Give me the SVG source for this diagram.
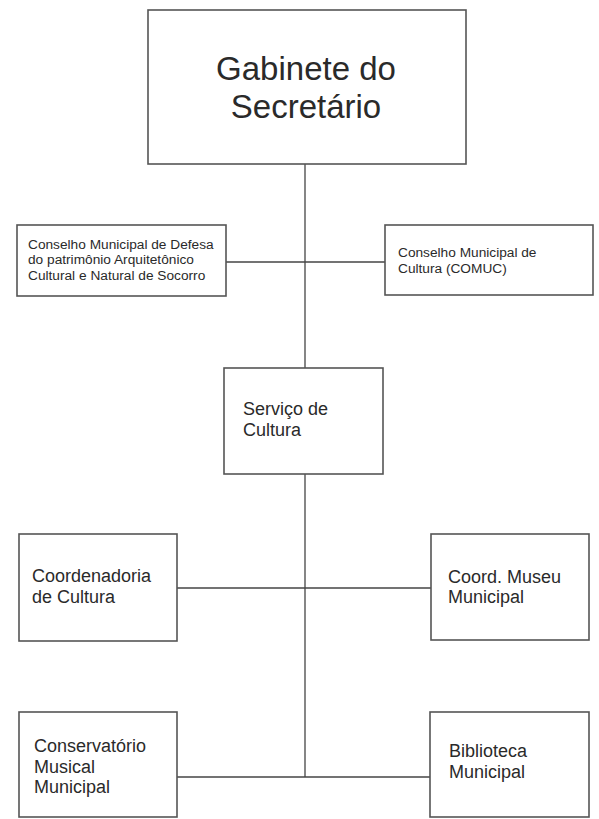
<svg xmlns="http://www.w3.org/2000/svg" width="599" height="819" viewBox="0 0 599 819">
<style>
.box{fill:#fff;stroke:#555;stroke-width:1.6}
.ln{stroke:#444;stroke-width:1.3;fill:none}
text{font-family:"Liberation Sans",Arial,sans-serif;fill:#2a2a2a}
.t18{font-size:18px}
.t14{font-size:13.7px}
.t33{font-size:33px}
</style>
<rect width="599" height="819" fill="#fff"/>
<g id="connectors">
<line class="ln" x1="305" y1="164" x2="305" y2="368"/>
<line class="ln" x1="226" y1="262" x2="385" y2="262"/>
<line class="ln" x1="305" y1="474" x2="305" y2="777"/>
<line class="ln" x1="177" y1="588" x2="431" y2="588"/>
<line class="ln" x1="177" y1="777" x2="430" y2="777"/>
</g>
<g id="gabinete">
<rect class="box" x="148" y="10" width="318" height="154"/>
<text class="t33" x="306" y="80" text-anchor="middle">Gabinete do</text>
<text class="t33" x="306" y="118" text-anchor="middle">Secretário</text>
</g>
<g id="conselho-patrimonio">
<rect class="box" x="17" y="225" width="209" height="71"/>
<text class="t14" x="28" y="249">Conselho Municipal de Defesa</text>
<text class="t14" x="28" y="264">do patrimônio Arquitetônico</text>
<text class="t14" x="28" y="280">Cultural e Natural de Socorro</text>
</g>
<g id="comuc">
<rect class="box" x="385" y="225" width="208" height="70"/>
<text class="t14" x="398" y="257">Conselho Municipal de</text>
<text class="t14" x="398" y="273">Cultura (COMUC)</text>
</g>
<g id="servico">
<rect class="box" x="224" y="368" width="159" height="106"/>
<text class="t18" x="243" y="415">Serviço de</text>
<text class="t18" x="243" y="436">Cultura</text>
</g>
<g id="coordenadoria">
<rect class="box" x="19" y="534" width="158" height="107"/>
<text class="t18" x="32" y="582">Coordenadoria</text>
<text class="t18" x="32" y="603">de Cultura</text>
</g>
<g id="museu">
<rect class="box" x="431" y="534" width="158" height="106"/>
<text class="t18" x="448" y="583">Coord. Museu</text>
<text class="t18" x="448" y="603">Municipal</text>
</g>
<g id="conservatorio">
<rect class="box" x="19" y="712" width="158" height="105"/>
<text class="t18" x="34" y="752">Conservatório</text>
<text class="t18" x="34" y="773">Musical</text>
<text class="t18" x="34" y="793">Municipal</text>
</g>
<g id="biblioteca">
<rect class="box" x="430" y="712" width="159" height="105"/>
<text class="t18" x="449" y="757">Biblioteca</text>
<text class="t18" x="449" y="778">Municipal</text>
</g>
</svg>
